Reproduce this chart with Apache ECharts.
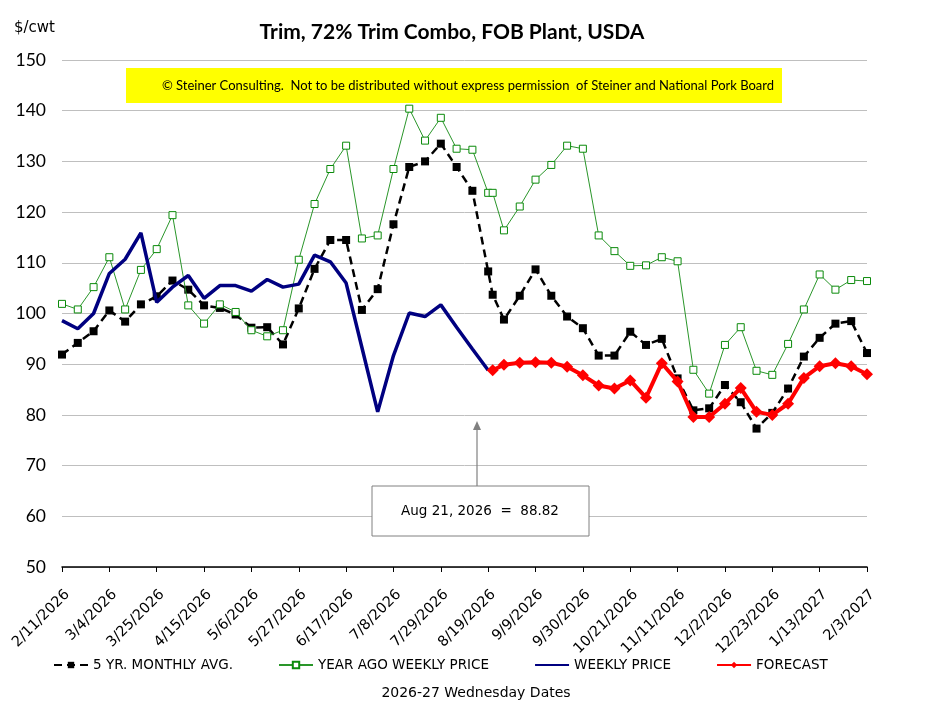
<!DOCTYPE html>
<html>
<head>
<meta charset="utf-8">
<script src="https://cdn.jsdelivr.net/npm/echarts@6/dist/echarts.min.js"></script>
<style>
html,body{margin:0;padding:0;background:#fff;}
#chart{width:944px;height:715px;}
</style>
</head>
<body>
<div id="chart"></div>
<script>
// ---- data ----
const dates = [
  '2/11/2026','2/18/2026','2/25/2026','3/4/2026','3/11/2026','3/18/2026','3/25/2026','4/1/2026',
  '4/8/2026','4/15/2026','4/22/2026','4/29/2026','5/6/2026','5/13/2026','5/20/2026','5/27/2026',
  '6/3/2026','6/10/2026','6/17/2026','6/24/2026','7/1/2026','7/8/2026','7/15/2026','7/22/2026',
  '7/29/2026','8/5/2026','8/12/2026','8/19/2026','8/21/2026','8/26/2026','9/2/2026','9/9/2026',
  '9/16/2026','9/23/2026','9/30/2026','10/7/2026','10/14/2026','10/21/2026','10/28/2026','11/4/2026',
  '11/11/2026','11/18/2026','11/25/2026','12/2/2026','12/9/2026','12/16/2026','12/23/2026','12/30/2026',
  '1/6/2027','1/13/2027','1/20/2027','1/27/2027','2/3/2027'
];
const fiveYrAvg = [
  91.9, 94.2, 96.5, 100.6, 98.4, 101.8, 103.4, 106.5,
  104.7, 101.6, 101.1, 99.8, 97.2, 97.3, 93.9, 101.0,
  108.8, 114.5, 114.5, 100.7, 104.8, 117.6, 128.9, 130.0,
  133.5, 128.9, 124.2, 108.3, 103.7, 98.8, 103.5, 108.7,
  103.5, 99.4, 97.1, 91.7, 91.7, 96.4, 93.8, 95.0,
  87.2, 80.9, 81.3, 85.9, 82.5, 77.3, 80.4, 85.2,
  91.5, 95.2, 98.0, 98.5, 92.2
];
const yearAgoPrice = [
  101.9, 100.8, 105.2, 111.1, 100.8, 108.6, 112.7, 119.4,
  101.6, 98.0, 101.8, 100.3, 96.7, 95.5, 96.7, 110.6,
  121.6, 128.5, 133.1, 114.8, 115.4, 128.5, 140.4, 134.1,
  138.6, 132.5, 132.3, 123.8, 123.8, 116.4, 121.1, 126.4,
  129.3, 133.1, 132.5, 115.4, 112.3, 109.4, 109.5, 111.1,
  110.3, 88.9, 84.2, 93.8, 97.3, 88.7, 87.9, 94.0,
  100.8, 107.7, 104.7, 106.6, 106.4
];
const weeklyPrice = [
  98.6, 97.0, 100.0, 107.9, 110.7, 115.9, 102.2, 105.2,
  107.5, 103.0, 105.5, 105.5, 104.4, 106.7, 105.2, 105.8,
  111.5, 110.2, 106.0, 93.3, 80.6, 91.7, 100.1, 99.4,
  101.7, 97.3, 93.0, 88.8, null, null, null, null,
  null, null, null, null, null, null, null, null,
  null, null, null, null, null, null, null, null,
  null, null, null, null, null
];
const forecast = [
  null, null, null, null, null, null, null, null,
  null, null, null, null, null, null, null, null,
  null, null, null, null, null, null, null, null,
  null, null, null, null, 88.82, 89.9, 90.3, 90.4,
  90.3, 89.5, 87.8, 85.8, 85.2, 86.8, 83.4, 90.2,
  86.6, 79.6, 79.6, 82.2, 85.3, 80.6, 80.0, 82.2,
  87.3, 89.6, 90.2, 89.6, 88.0
];
const seriesNames = ['5 YR. MONTHLY AVG.', 'YEAR AGO WEEKLY PRICE', 'WEEKLY PRICE', 'FORECAST'];
const titleText = 'Trim, 72% Trim Combo, FOB Plant, USDA';
const noticeText = '\u00A9 Steiner Consulting.  Not to be distributed without express permission  of Steiner and National Pork Board';
const calloutText = 'Aug 21, 2026  =  88.82';
const unitText = '$/cwt';
const xAxisTitle = '2026-27 Wednesday Dates';

// ---- helpers ----
function toUTC(s){ const p = s.split('/').map(Number); return Date.UTC(p[2], p[0]-1, p[1]); }
const t0 = toUTC(dates[0]);
const DAY = 86400000;
function dayOf(s){ return Math.round((toUTC(s) - t0) / DAY); }
function pairs(arr){ return dates.map((d,i)=>[dayOf(d), arr[i]]).filter(p=>p[1]!=null); }
function fmtDay(v){
  const d = new Date(t0 + v*DAY);
  return (d.getUTCMonth()+1) + '/' + d.getUTCDate() + '/' + d.getUTCFullYear();
}
const lastDay = dayOf(dates[dates.length-1]);

const chart = echarts.init(document.getElementById('chart'), null, {renderer:'canvas'});
const option = {
  backgroundColor: '#ffffff',
  animation: false,
  grid: {left: 62, right: 77, top: 60, bottom: 148, containLabel: false},
  xAxis: {
    type: 'value', min: 0, max: lastDay, interval: 21,
    axisLine: {show: true, lineStyle: {color: '#000', width: 1.5}},
    axisTick: {show: true, length: 5, lineStyle: {color: '#000', width: 1}},
    splitLine: {show: false},
    axisLabel: {
      rotate: 45, margin: 20, verticalAlign: 'top', fontFamily: 'DejaVu Sans', fontSize: 14.5, color: '#000',
      formatter: fmtDay, showMinLabel: true, showMaxLabel: true
    }
  },
  yAxis: {
    type: 'value', min: 50, max: 150, interval: 10,
    axisLine: {show: false}, axisTick: {show: false},
    splitLine: {show: true, lineStyle: {color: '#bfbfbf', width: 1}},
    axisLabel: {fontFamily: 'Lato', fontSize: 17.5, color: '#000', margin: 16}
  },
  legend: {
    left: 53, top: 658, padding: 0, itemWidth: 34, itemHeight: 8, itemGap: 45,
    textStyle: {fontFamily: 'DejaVu Sans', fontSize: 13.5, color: '#000'},
    data: [
      {name: seriesNames[0]},
      {name: seriesNames[1]},
      {name: seriesNames[2], itemStyle: {opacity: 0}},
      {name: seriesNames[3]}
    ]
  },
  series: [
    {
      name: seriesNames[0], type: 'line', data: pairs(fiveYrAvg),
      symbol: 'rect', symbolSize: 8,
      itemStyle: {color: '#000'},
      lineStyle: {color: '#000', width: 2.5, type: [8, 5]},
      z: 2
    },
    {
      name: seriesNames[1], type: 'line', data: pairs(yearAgoPrice),
      symbol: 'rect', symbolSize: 7,
      itemStyle: {color: '#ffffff', borderColor: '#0a8a0a', borderWidth: 1},
      lineStyle: {color: '#2a962a', width: 1},
      z: 3
    },
    {
      name: seriesNames[2], type: 'line', data: pairs(weeklyPrice),
      symbol: 'none',
      itemStyle: {color: '#000080'},
      lineStyle: {color: '#000080', width: 3.5},
      z: 4
    },
    {
      name: seriesNames[3], type: 'line', data: pairs(forecast),
      symbol: 'diamond', symbolSize: 12,
      itemStyle: {color: '#ff0000'},
      lineStyle: {color: '#ff0000', width: 4},
      z: 5
    }
  ],
  graphic: [
    {type: 'text', left: 14, top: 21, style: {text: unitText, fontFamily: 'DejaVu Sans', fontSize: 15, fill: '#000'}},
    {type: 'text', x: 452, y: 32, style: {text: titleText, fontFamily: 'Lato', fontWeight: 'bold', fontSize: 21, fill: '#000', align: 'center', verticalAlign: 'middle'}},
    {type: 'rect', shape: {x: 126, y: 68, width: 656, height: 35}, style: {fill: '#ffff00'}, z: 10},
    {type: 'text', x: 468, y: 86, z: 11, style: {text: noticeText, fontFamily: 'Lato', fontSize: 13, fill: '#000', align: 'center', verticalAlign: 'middle'}},
    {type: 'line', shape: {x1: 477, y1: 486, x2: 477, y2: 428}, style: {stroke: '#808080', lineWidth: 1.2}, z: 10},
    {type: 'polygon', shape: {points: [[477, 421], [473, 430], [481, 430]]}, style: {fill: '#808080'}, z: 10},
    {type: 'rect', shape: {x: 372, y: 486, width: 217, height: 50}, style: {fill: '#ffffff', stroke: '#808080', lineWidth: 1}, z: 10},
    {type: 'text', x: 480, y: 511, z: 11, style: {text: calloutText, fontFamily: 'DejaVu Sans', fontSize: 13.5, fill: '#000', align: 'center', verticalAlign: 'middle'}},
    {type: 'text', x: 476, y: 693, style: {text: xAxisTitle, fontFamily: 'DejaVu Sans', fontSize: 14, fill: '#000', align: 'center', verticalAlign: 'middle'}}
  ]
};
chart.setOption(option);
</script>
</body>
</html>
